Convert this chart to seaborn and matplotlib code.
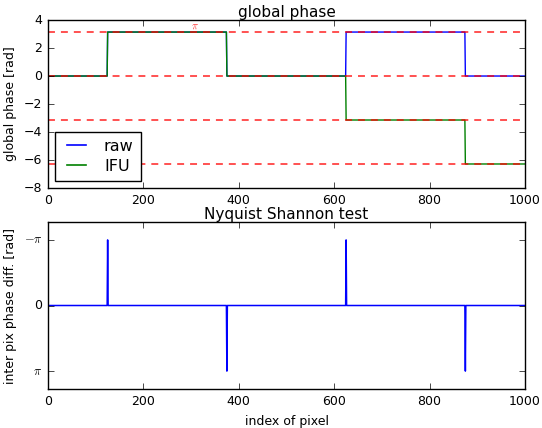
import numpy as np
import pandas as pd
import matplotlib
matplotlib.use("Agg")
import matplotlib.pyplot as plt
import seaborn as sns

plt.style.use("classic")
plt.rcParams["font.family"] = ["DejaVu Sans"]
plt.rcParams["font.size"] = 9

# Pixel count and phase-jump locations
n_pix = 1000
edges = [0, 125, 375, 625, 875, 1000]
# Phase level per segment [rad]
raw_levels = [0.0, np.pi, 0.0, np.pi, 0.0]
ifu_levels = [0.0, np.pi, 0.0, -np.pi, -2 * np.pi]
# Inter-pixel phase difference at each jump [rad]
jump_pix = [125, 375, 625, 875]
jump_diff = [-np.pi, np.pi, -np.pi, np.pi]
# Reference levels drawn as dashed lines
ref_levels = [np.pi, 0.0, -np.pi, -2 * np.pi]

pix = np.arange(n_pix)
seg_len = np.diff(edges)
raw = np.repeat(raw_levels, seg_len)
ifu = np.repeat(ifu_levels, seg_len)
diff = np.zeros(n_pix)
diff[jump_pix] = jump_diff

df = pd.DataFrame({"pix": np.concatenate([pix, pix]),
                   "phase": np.concatenate([raw, ifu]),
                   "series": ["raw"] * n_pix + ["IFU"] * n_pix})

fig = plt.figure(figsize=(5.42, 4.28), dpi=100)
ax1 = fig.add_axes([0.0886, 0.5607, 0.880, 0.3925])
ax2 = fig.add_axes([0.0886, 0.0911, 0.880, 0.3902])

sns.lineplot(data=df, x="pix", y="phase", hue="series",
             palette={"raw": "b", "IFU": "g"}, ax=ax1, linewidth=1.0,
             legend=True)
for lev in ref_levels:
    ax1.axhline(lev, color="r", linestyle="--", linewidth=1.2, alpha=0.8,
                dashes=(5, 4.3))
ax1.text(307, np.pi + 0.4, r"$\pi$", color="r", fontsize=7.5,
         ha="center", va="center", alpha=0.8)
ax1.set_xlim(0, 1000)
ax1.set_ylim(-8, 4)
ax1.set_title("global phase", fontsize=11, pad=2)
ax1.set_ylabel("global phase [rad]", fontsize=9)
ax1.set_xlabel("")
leg = ax1.legend(loc="lower left", fontsize=11.5, fancybox=False,
                 handlelength=1.8, handletextpad=0.8, borderpad=0.45,
                 labelspacing=0.3, borderaxespad=0.45)
leg.get_frame().set_edgecolor("k")
for h in leg.get_lines():
    h.set_linewidth(1.2)

sns.lineplot(x=pix, y=diff, color="b", ax=ax2, linewidth=1.1)
ax2.set_xlim(0, 1000)
ax2.set_ylim(4, -4)
ax2.set_yticks([-np.pi, 0, np.pi])
ax2.set_yticklabels([r"$-\pi$", "0", r"$\pi$"])
for lbl in (ax2.get_yticklabels()[0], ax2.get_yticklabels()[2]):
    lbl.set_fontsize(6)
ax2.set_title("Nyquist Shannon test", fontsize=11, pad=2)
ax2.set_xlabel("index of pixel", fontsize=9)
ax2.set_ylabel("inter pix phase diff. [rad]", fontsize=9)

for ax in (ax1, ax2):
    ax.tick_params(labelsize=9)

fig.savefig("out.png", dpi=100)
